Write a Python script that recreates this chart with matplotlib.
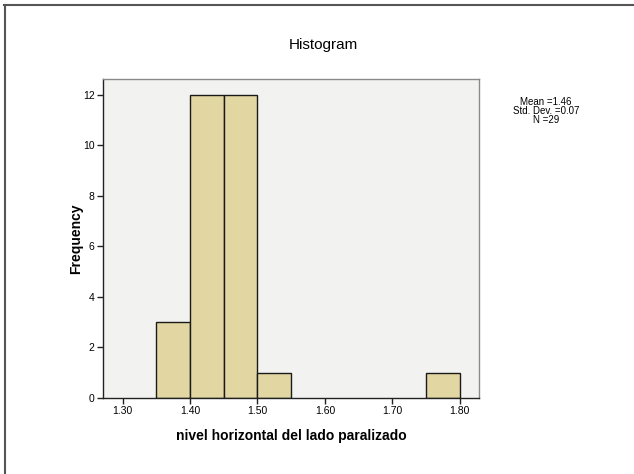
import matplotlib.pyplot as plt
from matplotlib.lines import Line2D

# histogram bins (left edge, right edge) and counts
bin_edges = [1.35, 1.40, 1.45, 1.50, 1.55, 1.60, 1.65, 1.70, 1.75, 1.80]
counts = [3, 12, 12, 1, 0, 0, 0, 0, 1]
x_ticks = [1.30, 1.40, 1.50, 1.60, 1.70, 1.80]
y_ticks = [0, 2, 4, 6, 8, 10, 12]
stats_text = "Mean =1.46\nStd. Dev. =0.07\nN =29"

plt.rcParams['font.family'] = ['Liberation Sans', 'DejaVu Sans']

fig = plt.figure(figsize=(6.34, 4.74), dpi=100)
ax = fig.add_axes([103 / 634, 1 - 398 / 474, 376 / 634, 319 / 474])
ax.set_facecolor("#f2f2f1")

lefts = bin_edges[:-1]
widths = [bin_edges[i + 1] - bin_edges[i] for i in range(len(lefts))]
for left, w, c in zip(lefts, widths, counts):
	if c > 0:
		ax.bar(left, c, width=w, align="edge", color="#e2d7a2",
			edgecolor="#1a1a1a", linewidth=1.0, zorder=2)

ax.set_xlim(1.2708, 1.8286)
ax.set_ylim(0, 12.63)
ax.set_xticks(x_ticks)
ax.set_xticklabels(["%.2f" % t for t in x_ticks])
ax.set_yticks(y_ticks)
ax.tick_params(axis="both", labelsize=7.5, length=4, width=1.0, color="#222222", pad=2)

for side in ["top", "right"]:
	ax.spines[side].set_color("#8a8a8a")
	ax.spines[side].set_linewidth(1.0)
for side in ["left", "bottom"]:
	ax.spines[side].set_color("#222222")
	ax.spines[side].set_linewidth(1.0)

ax.set_xlabel("nivel horizontal del lado paralizado", fontsize=10, fontweight="bold", labelpad=9)
ax.set_ylabel("Frequency", fontsize=10, fontweight="bold", labelpad=0)

# title sits centred on the whole page, not on the axes
fig.text(323 / 634, 1 - 45 / 474, "Histogram", fontsize=11, fontweight="medium",
	ha="center", va="center")

fig.text(546 / 634, 1 - 111 / 474, stats_text, fontsize=7, ha="center", va="center",
	linespacing=0.9)

# frame around the chart
fig.add_artist(Line2D([4 / 634, 1], [1 - 5 / 474] * 2, color="#555555", linewidth=1.5))
fig.add_artist(Line2D([4.5 / 634] * 2, [0, 1 - 5 / 474], color="#555555", linewidth=1.5))

fig.savefig("out.png", dpi=100)
